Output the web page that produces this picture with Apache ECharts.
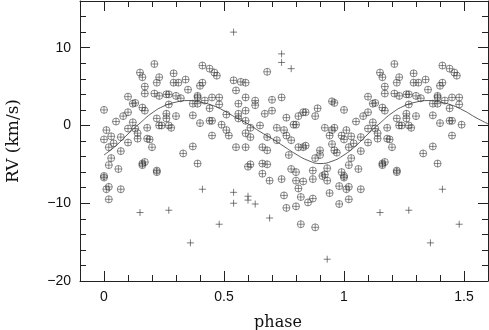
<!DOCTYPE html>
<html>
<head>
<meta charset="utf-8">
<script src="https://cdn.jsdelivr.net/npm/echarts@6/dist/echarts.min.js"></script>
<style>
  html, body { margin: 0; padding: 0; background: #fff; }
  #chart { width: 489px; height: 330px; }
</style>
</head>
<body>
<div id="chart"></div>
<script>
// circled points (phase 0..1)
var circPhase = [
  0.00, 0.01, 0.00, 0.03, 0.02, 0.04, 0.05, 0.07, 0.07, 0.08, 0.10, 0.10, 0.10, 0.10, 0.12, 0.12, 0.13, 0.13, 0.14, 0.14,
  0.15, 0.16, 0.17, 0.17, 0.16, 0.17, 0.18, 0.20, 0.18, 0.21, 0.21, 0.23, 0.22, 0.23, 0.22, 0.23, 0.24, 0.26, 0.26, 0.26,
  0.27, 0.27, 0.27, 0.28, 0.29, 0.29, 0.30, 0.30, 0.31, 0.32, 0.33, 0.34, 0.35, 0.37, 0.37, 0.37, 0.39, 0.39, 0.39, 0.39,
  0.40, 0.40, 0.41, 0.41, 0.42, 0.44, 0.44, 0.44, 0.45, 0.45, 0.45, 0.46, 0.47, 0.48, 0.48, 0.49, 0.51, 0.51, 0.52, 0.54,
  0.55, 0.55, 0.56, 0.56, 0.56, 0.57, 0.59, 0.59, 0.59, 0.59, 0.59, 0.59, 0.61, 0.61, 0.63, 0.63, 0.65, 0.66, 0.67, 0.68,
  0.68, 0.68, 0.70, 0.70, 0.72, 0.72, 0.74, 0.75, 0.76, 0.76, 0.77, 0.78, 0.79, 0.80, 0.81, 0.81, 0.83, 0.83, 0.84, 0.84,
  0.88, 0.88, 0.89, 0.90, 0.90, 0.92, 0.94, 0.95, 0.95, 0.96, 0.95, 0.97, 0.99, 0.60, 0.61, 0.66, 0.66, 0.68, 0.69, 0.74,
  0.75, 0.76, 0.78, 0.80, 0.80, 0.80, 0.81, 0.82, 0.82, 0.83, 0.85, 0.87, 0.87, 0.87, 0.88, 0.91, 0.92, 0.93, 0.94, 0.93,
  0.98, 0.98, 0.99, 0.96, 0.96, 0.00, 0.00, 0.02, 0.01, 0.07, 0.02, 0.06, 0.02, 0.16, 0.22, 0.22, 0.03, 0.16, 0.17, 0.19
];
var circRV = [
  2.0, -0.6, -1.8, -1.4, -2.8, -2.3, 0.5, -1.5, -3.3, 1.2, -0.4, 3.7, 1.7, -2.2, 0.4, 2.8, -0.4, 2.9, -1.0, -1.7,
  6.8, 6.2, 5.0, 4.1, 2.3, 1.9, -1.7, -2.8, -0.3, 7.9, 4.1, 6.2, 5.5, 3.8, 0.9, 0.0, 0.0, 4.0, 1.5, 0.9,
  4.0, 0.0, 2.7, -0.3, 6.7, 5.5, 3.8, 1.2, 5.5, 3.5, -3.6, 5.9, 4.6, -2.7, 1.3, 2.8, 3.8, 3.6, 2.8, -4.9,
  5.1, 0.3, 7.7, 5.5, 3.2, 7.3, 2.2, 0.6, -1.3, 3.6, 0.6, 6.8, 6.4, 3.6, 2.7, 0.1, -0.6, 1.4, -1.3, 5.8,
  -2.8, 4.5, 1.5, 2.8, 0.9, 5.6, 5.5, 3.6, 1.9, 0.6, -1.0, -2.8, -0.3, -1.5, 3.2, 2.6, 0.0, -2.8, 1.5, -1.5,
  -3.2, 6.9, 3.3, 1.9, -1.9, -0.3, 3.6, -0.6, 1.0, -1.3, -3.8, -1.9, 0.1, 0.1, 1.2, -2.8, 1.7, -2.8, -2.6, 1.7,
  -4.2, 1.2, 2.2, -3.8, -3.2, -0.3, -1.3, -0.6, 3.1, -0.3, -2.4, -3.5, -1.3, -5.3, -5.0, -6.2, -4.9, -5.0, -7.1, -6.9,
  -9.0, -10.6, -5.6, -6.0, -7.1, -10.4, -8.1, -9.2, -12.7, -7.2, -9.9, -5.8, -6.9, -9.4, -13.1, -6.5, -6.3, -7.1, -8.7, -5.5,
  -7.8, -10.1, -6.0, -3.2, 2.9, -6.7, -6.5, -7.9, -8.2, -8.2, -9.5, -5.6, -5.1, -5.1, -6.0, -5.8, -4.2, -4.9, -4.7, -1.8
];

// plain "+" points (phase 0..1)
var plusPhase = [0.15, 0.27, 0.36, 0.41, 0.48, 0.54, 0.54, 0.54, 0.60, 0.60, 0.63, 0.69, 0.74, 0.74, 0.78, 0.93];
var plusRV = [-11.2, -10.9, -15.1, -8.2, -12.7, -8.6, -10.0, 12.0, -9.1, -9.6, -10.1, -11.9, 9.2, 8.1, 7.3, -17.2];

// fitted curve
var curvePhase = [0, 0.05, 0.1, 0.15, 0.2, 0.25, 0.3, 0.35, 0.4, 0.45, 0.5, 0.55, 0.6, 0.65, 0.7, 0.75, 0.8,
  0.85, 0.9, 0.95, 1.0, 1.05, 1.1, 1.15, 1.2, 1.25, 1.3, 1.35, 1.4, 1.45, 1.5, 1.55, 1.6];
var curveRV = [-3.8, -2.6, -1.1, 0.3, 1.6, 2.5, 3.0, 3.2, 3.0, 2.6, 1.9, 1.0, 0.2, -0.8, -1.7, -2.7, -3.7,
  -4.5, -4.9, -4.6, -3.8, -2.6, -1.1, 0.3, 1.6, 2.5, 3.0, 3.2, 3.0, 2.6, 1.9, 1.0, 0.2];

var xMajor = [0, 0.5, 1, 1.5];
var xMinor = [-0.1, 0.1, 0.2, 0.3, 0.4, 0.6, 0.7, 0.8, 0.9, 1.1, 1.2, 1.3, 1.4, 1.6];
var yMajor = [-20, -10, 0, 10];
var yMinor = [-18, -16, -14, -12, -8, -6, -4, -2, 2, 4, 6, 8, 12, 14, 16];

// points below phase 0.5 are repeated one cycle later
function folded(ph, rv) {
  var out = [];
  ph.forEach(function (p, i) {
    out.push([p, rv[i]]);
    if (p < 0.5) out.push([p + 1, rv[i]]);
  });
  return out;
}

var chart = echarts.init(document.getElementById("chart"));

var labelFont = { color: "#111", fontFamily: "Liberation Sans", fontSize: 14 };
var lineColor = "#222";

function xAx(pos, ticks, len, showLine, showLabel, name) {
  return {
    type: "value",
    position: pos,
    min: -0.1,
    max: 1.6,
    name: name || "",
    nameLocation: "middle",
    nameGap: 34,
    nameTextStyle: { fontFamily: "DejaVu Serif", fontSize: 16, color: "#111", padding: [0, 12, 0, 0] },
    axisLine: { show: showLine, onZero: false, lineStyle: { color: lineColor, width: 1 } },
    axisTick: { show: true, inside: true, length: len, customValues: ticks, lineStyle: { color: lineColor } },
    axisLabel: Object.assign({ show: showLabel, customValues: xMajor, margin: 9 }, labelFont),
    splitLine: { show: false },
  };
}

function yAx(pos, ticks, len, showLine, showLabel, name) {
  return {
    type: "value",
    position: pos,
    min: -20,
    max: 16,
    name: name || "",
    nameLocation: "middle",
    nameGap: 58,
    nameTextStyle: { fontFamily: "DejaVu Serif", fontSize: 17, color: "#111" },
    axisLine: { show: showLine, onZero: false, lineStyle: { color: lineColor, width: 1 } },
    axisTick: { show: true, inside: true, length: len, customValues: ticks, lineStyle: { color: lineColor } },
    axisLabel: Object.assign({
      show: showLabel,
      customValues: yMajor,
      margin: 9,
      formatter: function (v) { return v < 0 ? "\u2212" + Math.abs(v) : String(v); },
    }, labelFont),
    splitLine: { show: false },
  };
}

var option = {
  animation: false,
  grid: { left: 80, right: 1, top: 1, bottom: 49, outerBoundsMode: "none", containLabel: false },
  xAxis: [
    xAx("bottom", xMajor, 10, true, true, "phase"),
    xAx("bottom", xMinor, 6, false, false),
    xAx("top", xMajor, 10, true, false),
    xAx("top", xMinor, 6, false, false),
  ],
  yAxis: [
    yAx("left", yMajor, 10, true, true, "RV (km/s)"),
    yAx("left", yMinor, 6, false, false),
    yAx("right", yMajor, 10, true, false),
    yAx("right", yMinor, 6, false, false),
  ],
  series: [
    {
      name: "fit",
      type: "line",
      data: curvePhase.map(function (p, i) { return [p, curveRV[i]]; }),
      smooth: true,
      showSymbol: false,
      lineStyle: { color: "#333", width: 0.8 },
      z: 1,
    },
    {
      name: "rv",
      type: "scatter",
      data: folded(circPhase, circRV),
      symbol: "path://M10,0A10,10,0,1,1,-10,0A10,10,0,1,1,10,0ZM-10,0L10,0M0,-10L0,10",
      symbolSize: 7,
      itemStyle: { color: "rgba(0,0,0,0)", borderColor: "#333", borderWidth: 0.7 },
      z: 2,
    },
    {
      name: "rejected",
      type: "scatter",
      data: folded(plusPhase, plusRV),
      symbol: "path://M-10,0L10,0M0,-10L0,10",
      symbolSize: 7,
      itemStyle: { color: "rgba(0,0,0,0)", borderColor: "#333", borderWidth: 0.8 },
      z: 2,
    },
  ],
};

option && chart.setOption(option);
</script>
</body>
</html>
